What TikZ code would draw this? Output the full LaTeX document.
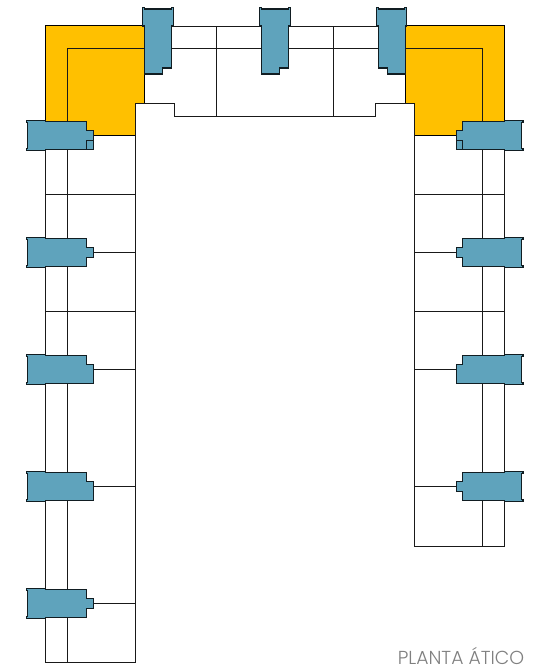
\documentclass[tikz,border=0pt]{standalone}
\usepackage{fontspec}
\setmainfont{Poppins Light}
\definecolor{balc}{HTML}{5FA3BC}
\definecolor{roof}{HTML}{FFC000}
\definecolor{lab}{HTML}{808080}
\tikzset{
  plan/.style={draw=black!90,line width=1.1pt,line join=miter},
  balcony/.style={draw=black!82!balc,line width=1.3pt,fill=balc},
  roofzone/.style={draw=black,line width=1.1pt,fill=roof},
  caption/.style={text=lab,font=\fontsize{18.8pt}{21pt}\selectfont,anchor=base east,inner sep=0pt}
}
% left-wing balcony with a narrow nub
\newcommand{\balcLn}[1]{%
  \draw[balcony,shift={(0,#1)}] (26.6,-14.8)--(45.5,-14.8)--(45.5,-14)--(86.5,-14)--(86.5,-5)--(93.5,-5)--(93.5,5)--(86.5,5)--(86.5,14)--(45.5,14)--(45.5,14.8)--(26.6,14.8)--(26.6,13)--(27.8,13)--(27.8,-13)--(26.6,-13)--cycle;}
% left-wing balcony with only an upper step
\newcommand{\balcLs}[1]{%
  \draw[balcony,shift={(0,#1)}] (26.6,-14.8)--(45.5,-14.8)--(45.5,-14)--(86.5,-14)--(86.5,-5)--(93.5,-5)--(93.5,14)--(45.5,14)--(45.5,14.8)--(26.6,14.8)--(26.6,13)--(27.8,13)--(27.8,-13)--(26.6,-13)--cycle;}
\newcommand{\balcRn}[1]{%
  \draw[balcony,shift={(0,#1)}] (523,-14.8)--(504.5,-14.8)--(504.5,-14)--(462.5,-14)--(462.5,-5)--(456.5,-5)--(456.5,5)--(462.5,5)--(462.5,14)--(504.5,14)--(504.5,14.8)--(523,14.8)--(523,13)--(521.8,13)--(521.8,-13)--(523,-13)--cycle;}
\newcommand{\balcRs}[1]{%
  \draw[balcony,shift={(0,#1)}] (523,-14.8)--(504.5,-14.8)--(504.5,-14)--(462.5,-14)--(462.5,-5)--(456.5,-5)--(456.5,14)--(504.5,14)--(504.5,14.8)--(523,14.8)--(523,13)--(521.8,13)--(521.8,-13)--(523,-13)--cycle;}
% top-wing balconies, offset from their left edge
\newcommand{\balcT}[1]{%
  \draw[balcony,shift={(#1,0)}] (0,7.5)--(2,7.5)--(2,9)--(29,9)--(29,7.5)--(31,7.5)--(31,26)--(29,26)--(29,68)--(20,68)--(20,74)--(2,74)--(2,26)--(0,26)--cycle;}
\newcommand{\balcTr}[1]{%
  \draw[balcony,shift={(#1,0)}] (0,7.5)--(2,7.5)--(2,9)--(28,9)--(28,7.5)--(30,7.5)--(30,26)--(29,26)--(29,74)--(11,74)--(11,68)--(2,68)--(2,26)--(0,26)--cycle;}
\newcommand{\balcTm}[1]{%
  \draw[balcony,shift={(#1,0)}] (0,7.5)--(2,7.5)--(2,9)--(29,9)--(29,7.5)--(31,7.5)--(31,26)--(29,26)--(29,68)--(20,68)--(20,74)--(2,74)--(2,26)--(0,26)--cycle;}
\begin{document}
\begin{tikzpicture}[x=1pt,y=-1pt]
\useasboundingbox (0,0) rectangle (548,668);
\fill[white] (0,0) rectangle (548,668);
% roof zones
\draw[roofzone] (45.5,25.5)--(144.5,25.5)--(144.5,103.5)--(135.5,103.5)--(135.5,135.5)--(45.5,135.5)--cycle;
\draw[roofzone] (405.5,25.5)--(504.5,25.5)--(504.5,135.5)--(414.5,135.5)--(414.5,103.5)--(405.5,103.5)--cycle;
\draw[plan] (67.5,135.5)--(67.5,48.5)--(144.5,48.5);
\draw[plan] (482.5,135.5)--(482.5,48.5)--(405.5,48.5);
% wings
\draw[plan] (45.5,135.5)--(45.5,662.5)--(135.5,662.5)--(135.5,103.5)--(174.5,103.5)--(174.5,116.5)--(375.5,116.5)--(375.5,103.5)--(414.5,103.5)--(414.5,546.5)--(504.5,546.5)--(504.5,135.5);
\draw[plan] (67.5,135.5)--(67.5,662.5);
\draw[plan] (482.5,135.5)--(482.5,546.5);
\foreach \yy in {194.5,311.5}{
  \draw[plan] (45.5,\yy)--(135.5,\yy);
  \draw[plan] (414.5,\yy)--(504.5,\yy);
}
\foreach \yy in {252.5,369.5,486.5,603.5}{\draw[plan] (67.5,\yy)--(135.5,\yy);}
\foreach \yy in {252.5,369.5,486.5}{\draw[plan] (414.5,\yy)--(482.5,\yy);}
% top wing
\draw[plan] (172,26.5)--(378,26.5);
\draw[plan] (172,48.5)--(378,48.5);
\draw[plan] (216.5,26.5)--(216.5,116.5);
\draw[plan] (333.5,26.5)--(333.5,116.5);
% balconies
\balcLs{135.5}\balcLn{252.5}\balcLs{369.5}\balcLs{486.5}\balcLn{603.5}
\balcRs{135.5}\balcRn{252.5}\balcRs{369.5}\balcRn{486.5}
\balcT{142.5}\balcTm{259.5}\balcTr{376.5}
\draw[balcony,fill=none] (86.5,149.5)--(86.5,140.5)--(93.5,140.5);
\draw[balcony,fill=none] (462.5,149.5)--(462.5,140.5)--(456.5,140.5);
\node[caption] (title) at (524.5,664) {PLANTA ÁTICO};
\end{tikzpicture}
\end{document}
